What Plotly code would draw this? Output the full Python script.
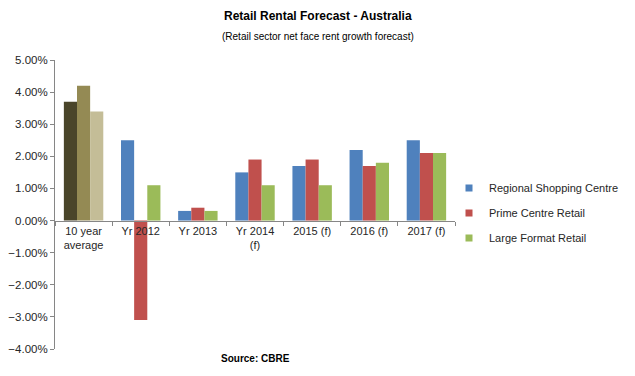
import plotly.graph_objects as go

categories = ["10 year<br>average", "Yr 2012", "Yr 2013", "Yr 2014<br>(f)", "2015 (f)", "2016 (f)", "2017 (f)"]
regional = [3.7, 2.5, 0.3, 1.5, 1.7, 2.2, 2.5]
prime = [4.2, -3.1, 0.4, 1.9, 1.9, 1.7, 2.1]
large = [3.4, 1.1, 0.3, 1.1, 1.1, 1.8, 2.1]
series_names = ["Regional Shopping Centre", "Prime Centre Retail", "Large Format Retail"]
y_ticks = [5, 4, 3, 2, 1, 0, -1, -2, -3, -4]

base_colors = ["#4F81BD", "#C0504D", "#9BBB59"]
first_colors = ["#4A452A", "#948A54", "#C4BD97"]
FONT = "Liberation Sans"

fig = go.Figure()
for name, vals, c, fc in zip(series_names, [regional, prime, large], base_colors, first_colors):
    colors = [fc] + [c] * (len(vals) - 1)
    fig.add_trace(go.Bar(x=categories, y=[v / 100 for v in vals], name=name,
                         marker=dict(color=colors, line=dict(width=0)), showlegend=False))
for name, c in zip(series_names, base_colors):
    fig.add_trace(go.Scatter(x=[None], y=[None], mode="markers", name=name, legendgroup=name,
                             marker=dict(symbol="square", size=7, color=c)))

# page body has an 8px margin; figure coordinates = screen coordinates - 8
OFF = 8
W, H = 635 - OFF, 376 - OFF
l, r, t, b = 55 - OFF, W - (455 - OFF), 60 - OFF, H - (349 - OFF)
ymin, ymax = -0.04, 0.05
zero_pos = (0 - ymin) / (ymax - ymin)
pw, ph = W - l - r, H - t - b

fig.update_layout(
    width=W, height=H,
    margin=dict(l=l, r=r, t=t, b=b, autoexpand=False),
    paper_bgcolor="white", plot_bgcolor="white",
    font=dict(family=FONT, size=11, color="#262626"),
    barmode="group", bargap=0.31, bargroupgap=0,
    showlegend=True,
    legend=dict(x=(449 - OFF - l) / pw, y=(H - b - (213 - OFF)) / ph, xanchor="left", yanchor="middle",
                font=dict(size=11, family=FONT), tracegroupgap=6,
                itemwidth=30, bgcolor="rgba(0,0,0,0)"),
    xaxis=dict(type="category", anchor="free", position=zero_pos, automargin=False,
               showline=True, linecolor="#868686", linewidth=1,
               ticks="outside", tickson="boundaries", ticklen=4, tickcolor="#868686",
               showgrid=False, tickfont=dict(size=11)),
    yaxis=dict(range=[ymin, ymax], tickvals=[v / 100 for v in y_ticks], automargin=False,
               tickformat=".2%", showline=True, linecolor="#868686", linewidth=1,
               ticks="outside", ticklen=4, tickcolor="#868686",
               showgrid=False, zeroline=False, tickfont=dict(size=11.5)),
    annotations=[
        dict(text="<b>Retail Rental Forecast - Australia</b>", x=318, y=16, xref="paper", yref="paper",
             showarrow=False, font=dict(size=12, color="#000000")),
        dict(text="(Retail sector net face rent growth forecast)", x=318, y=36, xref="paper", yref="paper",
             showarrow=False, font=dict(size=10, color="#000000")),
        dict(text="<b>Source: CBRE</b>", x=256, y=358, xref="paper", yref="paper",
             showarrow=False, font=dict(size=10, color="#000000")),
    ],
)

# annotation positions above are screen pixels; convert to paper coords
for a in fig.layout.annotations:
    px, py = a.x - OFF, a.y - OFF
    a.x = (px - l) / pw
    a.y = (H - b - py) / ph
    a.xanchor = "center"
    a.yanchor = "middle"

fig.write_html("out.html")
